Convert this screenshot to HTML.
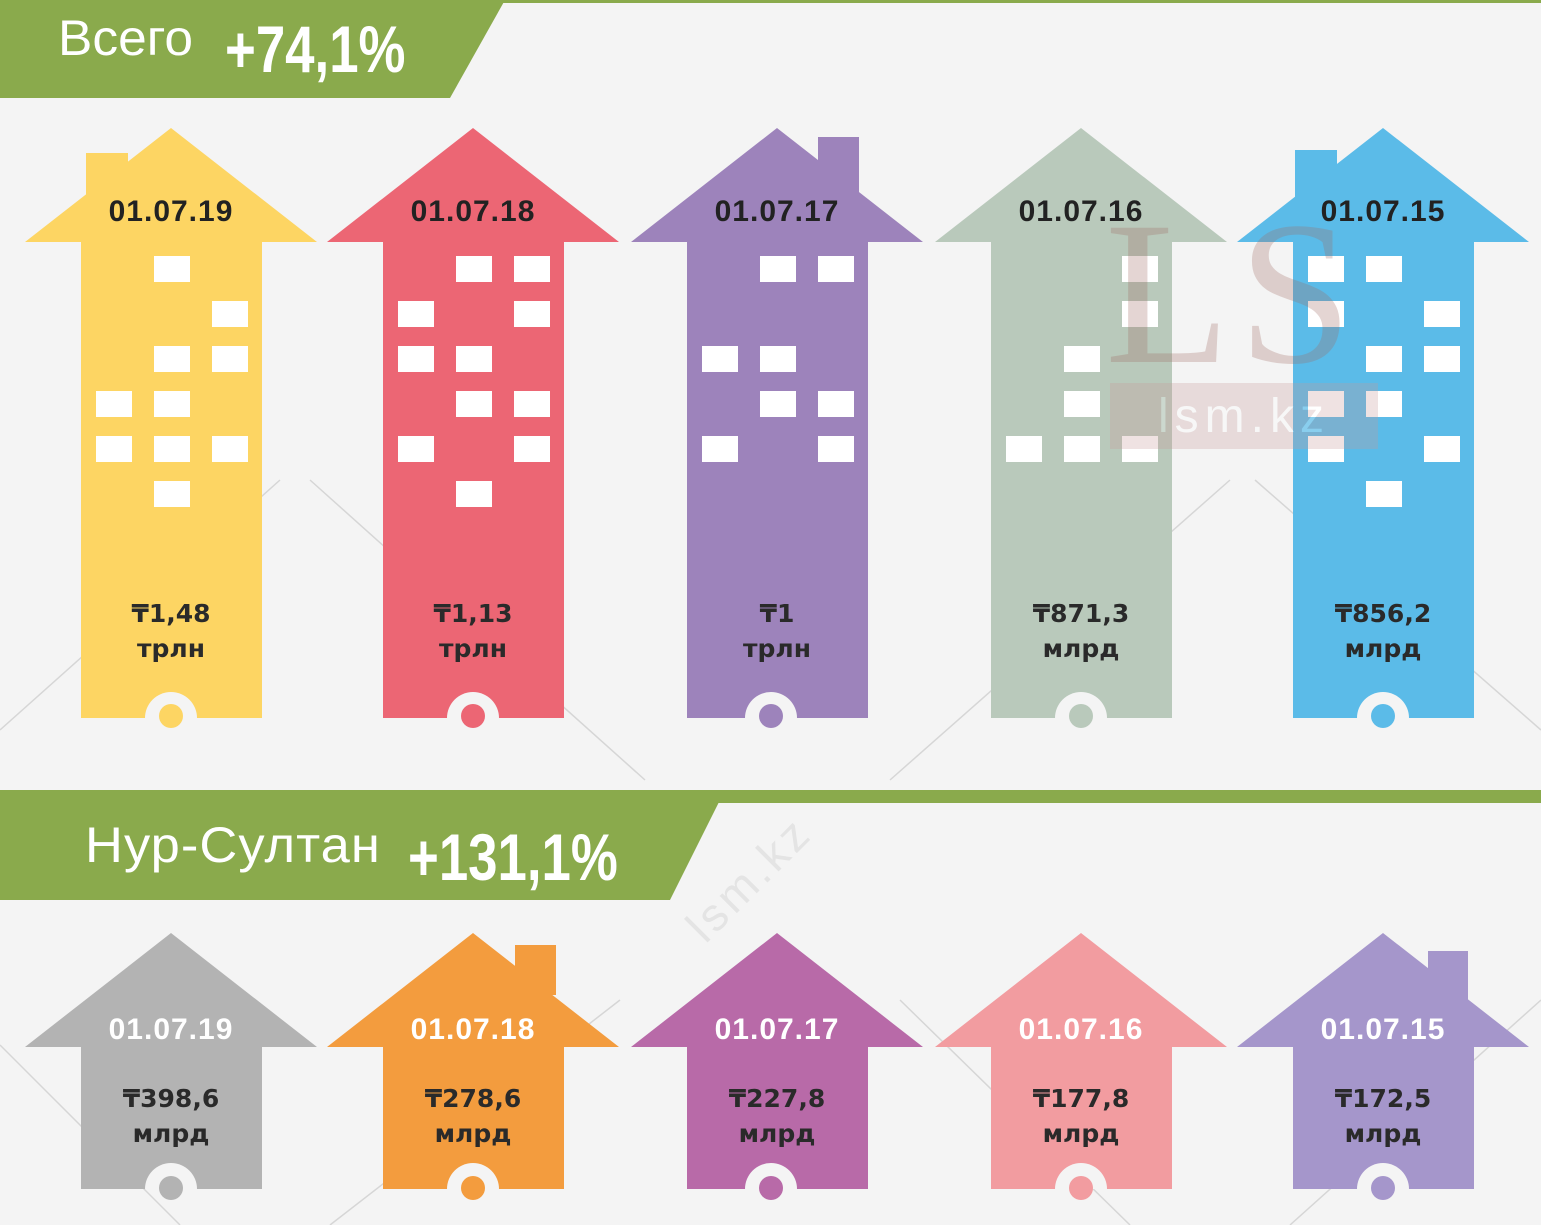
<!DOCTYPE html>
<html><head><meta charset="utf-8"><style>
html,body{margin:0;padding:0;background:#f4f4f4;}
svg{display:block}
.d{font-family:"Liberation Sans",sans-serif;font-weight:bold;font-size:30px;text-anchor:middle;letter-spacing:1px}
.v{font-family:"DejaVu Sans","Liberation Sans",sans-serif;font-weight:bold;font-size:25px;text-anchor:middle;fill:#2a2a2a}
</style></head><body>
<svg width="1541" height="1225" viewBox="0 0 1541 1225" xmlns="http://www.w3.org/2000/svg">
<rect width="1541" height="1225" fill="#f4f4f4"/>
<g stroke="#d6d6d6" stroke-width="1.5">
<line x1="0" y1="730" x2="280" y2="480"/><line x1="310" y1="480" x2="645" y2="780"/>
<line x1="890" y1="780" x2="1230" y2="480"/><line x1="1255" y1="480" x2="1541" y2="730"/>
<line x1="0" y1="1045" x2="180" y2="1225"/><line x1="330" y1="1225" x2="620" y2="1000"/>
<line x1="900" y1="1000" x2="1130" y2="1225"/><line x1="1290" y1="1225" x2="1541" y2="1000"/>
</g>
<rect x="0" y="0" width="1541" height="3" fill="#8aaa4c"/>
<polygon points="0,0 505,0 450,98 0,98" fill="#8aaa4c"/>
<text x="58" y="55" font-family="Liberation Sans,sans-serif" font-size="50" fill="#fff" transform="translate(58 0) scale(1.03 1) translate(-58 0)">Всего</text>
<text x="225" y="72" font-family="Liberation Sans Narrow,Liberation Sans,sans-serif" font-weight="bold" font-size="66" fill="#fff" transform="translate(225 0) scale(0.8 1) translate(-225 0)">+74,1%</text>
<rect x="0" y="790" width="1541" height="13" fill="#8aaa4c"/>
<polygon points="0,790 725,790 670,900 0,900" fill="#8aaa4c"/>
<text x="85" y="862" font-family="Liberation Sans,sans-serif" font-size="50" fill="#fff" letter-spacing="1" transform="translate(85 0) scale(1.05 1) translate(-85 0)">Нур-Султан</text>
<text x="408" y="880" font-family="Liberation Sans Narrow,Liberation Sans,sans-serif" font-weight="bold" font-size="66" fill="#fff" transform="translate(408 0) scale(0.8 1) translate(-408 0)">+131,1%</text>

<g fill="#fdd563">
<polygon points="171,128 317,242 262,242 262,718 81,718 81,242 25,242"/>
<rect x="86" y="153" width="42" height="60"/>
</g>
<g fill="#ec6674"><polygon points="473,128 619,242 564,242 564,718 383,718 383,242 327,242"/></g>
<g fill="#9d83bb"><polygon points="777,128 923,242 868,242 868,718 687,718 687,242 631,242"/><rect x="818" y="137" width="41" height="60"/></g>
<g fill="#b9c9bb"><polygon points="1081,128 1227,242 1172,242 1172,718 991,718 991,242 935,242"/></g>
<g fill="#5bbbe8"><polygon points="1383,128 1529,242 1474,242 1474,718 1293,718 1293,242 1237,242"/><rect x="1295" y="150" width="42" height="60"/></g>

<g fill="#fff">
<rect x="154" y="256" width="36" height="26"/><rect x="212" y="301" width="36" height="26"/>
<rect x="154" y="346" width="36" height="26"/><rect x="212" y="346" width="36" height="26"/>
<rect x="96" y="391" width="36" height="26"/><rect x="154" y="391" width="36" height="26"/>
<rect x="96" y="436" width="36" height="26"/><rect x="154" y="436" width="36" height="26"/><rect x="212" y="436" width="36" height="26"/>
<rect x="154" y="481" width="36" height="26"/>
<rect x="456" y="256" width="36" height="26"/><rect x="514" y="256" width="36" height="26"/>
<rect x="398" y="301" width="36" height="26"/><rect x="514" y="301" width="36" height="26"/>
<rect x="398" y="346" width="36" height="26"/><rect x="456" y="346" width="36" height="26"/>
<rect x="456" y="391" width="36" height="26"/><rect x="514" y="391" width="36" height="26"/>
<rect x="398" y="436" width="36" height="26"/><rect x="514" y="436" width="36" height="26"/>
<rect x="456" y="481" width="36" height="26"/>
<rect x="760" y="256" width="36" height="26"/><rect x="818" y="256" width="36" height="26"/>
<rect x="702" y="346" width="36" height="26"/><rect x="760" y="346" width="36" height="26"/>
<rect x="760" y="391" width="36" height="26"/><rect x="818" y="391" width="36" height="26"/>
<rect x="702" y="436" width="36" height="26"/><rect x="818" y="436" width="36" height="26"/>
<rect x="1122" y="256" width="36" height="26"/><rect x="1122" y="301" width="36" height="26"/>
<rect x="1064" y="346" width="36" height="26"/><rect x="1064" y="391" width="36" height="26"/>
<rect x="1006" y="436" width="36" height="26"/><rect x="1064" y="436" width="36" height="26"/><rect x="1122" y="436" width="36" height="26"/>
<rect x="1308" y="256" width="36" height="26"/><rect x="1366" y="256" width="36" height="26"/>
<rect x="1308" y="301" width="36" height="26"/><rect x="1424" y="301" width="36" height="26"/>
<rect x="1366" y="346" width="36" height="26"/><rect x="1424" y="346" width="36" height="26"/>
<rect x="1308" y="391" width="36" height="26"/><rect x="1366" y="391" width="36" height="26"/>
<rect x="1308" y="436" width="36" height="26"/><rect x="1424" y="436" width="36" height="26"/>
<rect x="1366" y="481" width="36" height="26"/>
</g>

<g opacity="0.28">
<text x="1105" y="362" font-family="Liberation Serif,serif" font-size="205" fill="#a06b63" letter-spacing="8">LS</text>
<rect x="1110" y="383" width="268" height="66" fill="#c99a98"/>
<text x="1244" y="432" font-family="Liberation Sans,sans-serif" font-size="48" fill="#fff" text-anchor="middle" letter-spacing="6">lsm.kz</text>
</g>
<text x="760" y="890" font-family="Liberation Sans,sans-serif" font-size="46" fill="#e4e4e4" text-anchor="middle" transform="rotate(-45 760 890)" letter-spacing="4">lsm.kz</text>

<g fill="#f4f4f4">
<path d="M145,718 A26,26 0 0 1 197,718 Z"/><path d="M447,718 A26,26 0 0 1 499,718 Z"/>
<path d="M745,718 A26,26 0 0 1 797,718 Z"/><path d="M1055,718 A26,26 0 0 1 1107,718 Z"/>
<path d="M1357,718 A26,26 0 0 1 1409,718 Z"/>
</g>
<circle cx="171" cy="716" r="12" fill="#fdd563"/><circle cx="473" cy="716" r="12" fill="#ec6674"/>
<circle cx="771" cy="716" r="12" fill="#9d83bb"/><circle cx="1081" cy="716" r="12" fill="#b9c9bb"/>
<circle cx="1383" cy="716" r="12" fill="#5bbbe8"/>

<g class="d" fill="#222">
<text x="171" y="221">01.07.19</text><text x="473" y="221">01.07.18</text><text x="777" y="221">01.07.17</text>
<text x="1081" y="221">01.07.16</text><text x="1383" y="221">01.07.15</text>
</g>
<g class="v">
<text x="171" y="622">₸1,48</text><text x="171" y="657">трлн</text>
<text x="473" y="622">₸1,13</text><text x="473" y="657">трлн</text>
<text x="777" y="622">₸1</text><text x="777" y="657">трлн</text>
<text x="1081" y="622">₸871,3</text><text x="1081" y="657">млрд</text>
<text x="1383" y="622">₸856,2</text><text x="1383" y="657">млрд</text>
</g>

<polygon fill="#b3b3b3" points="171,933 317,1047 262,1047 262,1189 81,1189 81,1047 25,1047"/>
<g fill="#f39c3e"><polygon points="473,933 619,1047 564,1047 564,1189 383,1189 383,1047 327,1047"/><rect x="515" y="945" width="41" height="50"/></g>
<polygon fill="#b86aa8" points="777,933 923,1047 868,1047 868,1189 687,1189 687,1047 631,1047"/>
<polygon fill="#f29ca0" points="1081,933 1227,1047 1172,1047 1172,1189 991,1189 991,1047 935,1047"/>
<g fill="#a596cb"><polygon points="1383,933 1529,1047 1474,1047 1474,1189 1293,1189 1293,1047 1237,1047"/><rect x="1428" y="951" width="40" height="50"/></g>
<g fill="#f4f4f4">
<path d="M145,1189 A26,26 0 0 1 197,1189 Z"/><path d="M447,1189 A26,26 0 0 1 499,1189 Z"/>
<path d="M745,1189 A26,26 0 0 1 797,1189 Z"/><path d="M1055,1189 A26,26 0 0 1 1107,1189 Z"/>
<path d="M1357,1189 A26,26 0 0 1 1409,1189 Z"/>
</g>
<circle cx="171" cy="1188" r="12" fill="#b3b3b3"/><circle cx="473" cy="1188" r="12" fill="#f39c3e"/>
<circle cx="771" cy="1188" r="12" fill="#b86aa8"/><circle cx="1081" cy="1188" r="12" fill="#f29ca0"/>
<circle cx="1383" cy="1188" r="12" fill="#a596cb"/>
<g class="d" fill="#fff">
<text x="171" y="1039">01.07.19</text><text x="473" y="1039">01.07.18</text><text x="777" y="1039">01.07.17</text>
<text x="1081" y="1039">01.07.16</text><text x="1383" y="1039">01.07.15</text>
</g>
<g class="v">
<text x="171" y="1107">₸398,6</text><text x="171" y="1142">млрд</text>
<text x="473" y="1107">₸278,6</text><text x="473" y="1142">млрд</text>
<text x="777" y="1107">₸227,8</text><text x="777" y="1142">млрд</text>
<text x="1081" y="1107">₸177,8</text><text x="1081" y="1142">млрд</text>
<text x="1383" y="1107">₸172,5</text><text x="1383" y="1142">млрд</text>
</g>
</svg>
</body></html>
